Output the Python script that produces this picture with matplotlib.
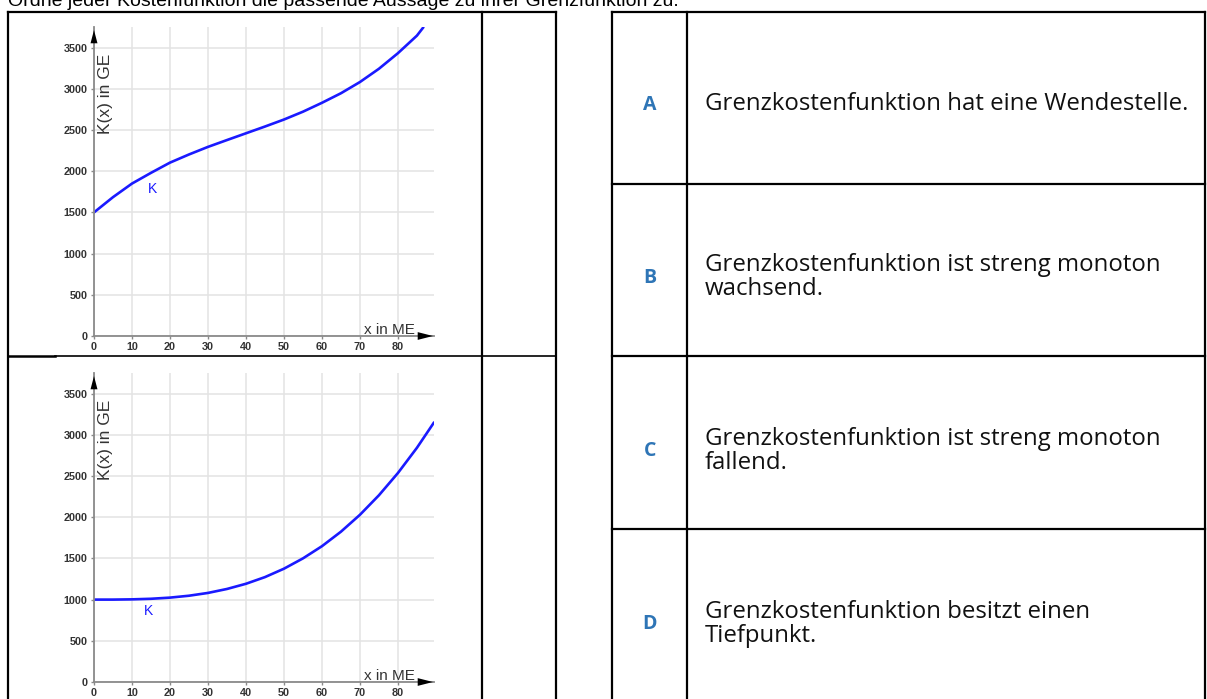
import matplotlib
matplotlib.use("Agg")
import matplotlib.pyplot as plt

# ---- Daten ----
x_ticks = [0, 10, 20, 30, 40, 50, 60, 70, 80]
y_ticks = [0, 500, 1000, 1500, 2000, 2500, 3000, 3500]

# Kostenfunktion oben (mit Wendestelle)
x_k1 = [0, 5, 10, 15, 20, 25, 30, 35, 40, 45, 50, 55, 60, 65, 70, 75, 80, 85, 86.7]
k1 = [1500, 1685, 1850, 1980, 2104, 2203, 2295, 2378, 2460, 2542, 2627, 2722,
      2830, 2946, 3082, 3243, 3432, 3645, 3746]

# Kostenfunktion unten (konvex)
x_k2 = [0, 5, 10, 15, 20, 25, 30, 35, 40, 45, 50, 55, 60, 65, 70, 75, 80, 85, 89.5]
k2 = [1000, 1000, 1003, 1010, 1024, 1047, 1081, 1129, 1192, 1273, 1375, 1500,
      1648, 1824, 2029, 2266, 2536, 2842, 3150]

letters = ["A", "B", "C", "D"]
statements = [
    "Grenzkostenfunktion hat eine Wendestelle.",
    "Grenzkostenfunktion ist streng monoton\nwachsend.",
    "Grenzkostenfunktion ist streng monoton\nfallend.",
    "Grenzkostenfunktion besitzt einen\nTiefpunkt.",
]
title = "Ordne jeder Kostenfunktion die passende Aussage zu ihrer Grenzfunktion zu."

W, H = 1207, 699
fig = plt.figure(figsize=(W / 100, H / 100), dpi=100)

# ---- Arbeitsblatt-Ebene in Pixelkoordinaten ----
page = fig.add_axes([0, 0, 1, 1], zorder=0)
page.set_xlim(0, W)
page.set_ylim(H, 0)
page.axis("off")

# Überschrift ist im Original oben abgeschnitten
page.text(8, 6, title, fontsize=14, family="Liberation Sans", va="baseline", ha="left")

lw_tab = 1.6
# linke Tabelle
page.plot([8, 8], [12, H + 5], color="black", lw=lw_tab)
page.plot([556, 556], [12, H + 5], color="black", lw=lw_tab)
page.plot([482, 482], [12, H + 5], color="black", lw=lw_tab)
page.plot([8, 556], [12, 12], color="black", lw=lw_tab)
page.plot([8, 55], [356, 356], color="black", lw=1.8)
page.plot([55, 556], [356, 356], color="black", lw=1.2)

# rechte Tabelle
page.plot([612, 612], [12, H + 5], color="black", lw=lw_tab)
page.plot([687, 687], [12, H + 5], color="black", lw=lw_tab)
page.plot([1205, 1205], [12, H + 5], color="black", lw=lw_tab)
for yy in [12, 184, 356, 529]:
    page.plot([612, 1205], [yy, yy], color="black", lw=lw_tab)

letter_y = [105, 278, 451, 624]
text_y = [104, 277, 451, 624]
for let, txt, ly, ty in zip(letters, statements, letter_y, text_y):
    page.text(650, ly, let, fontsize=14, fontweight="bold", color="#2E75B6",
              family="Open Sans", ha="center", va="center")
    page.text(705, ty, txt, fontsize=17.3, color="#111111", family="Open Sans",
              ha="left", va="center", linespacing=1.05)


def draw_chart(rect, xs, ys, k_pos):
    ax = fig.add_axes(rect, zorder=2)
    ax.set_facecolor("none")
    ax.plot(xs, ys, color="#1a1aff", lw=1.9, solid_capstyle="round")
    ax.set_xlim(0, 89.5)
    ax.set_ylim(0, 3750)
    ax.set_xticks(x_ticks)
    ax.set_yticks(y_ticks)
    ax.grid(True, color="#e3e3e3", lw=1.1)
    ax.set_axisbelow(True)
    for s in ["top", "right"]:
        ax.spines[s].set_visible(False)
    for s in ["left", "bottom"]:
        ax.spines[s].set_color("#8a8a8a")
        ax.spines[s].set_linewidth(1.3)
    ax.tick_params(length=2.5, width=1, color="#8a8a8a", labelsize=7.8,
                   labelcolor="#333333", pad=2)
    for lab in ax.get_xticklabels() + ax.get_yticklabels():
        lab.set_fontweight("bold")
        lab.set_family("Liberation Sans")

    # Achsenpfeile
    ax.annotate("", xy=(0, 0.99), xytext=(0, 0.945), xycoords="axes fraction",
                arrowprops=dict(arrowstyle="-|>,head_length=0.95,head_width=0.25",
                                mutation_scale=10, color="black", lw=0,
                                shrinkA=0, shrinkB=0), annotation_clip=False)
    ax.annotate("", xy=(0.997, 0), xytext=(0.95, 0), xycoords="axes fraction",
                arrowprops=dict(arrowstyle="-|>,head_length=1.1,head_width=0.28",
                                mutation_scale=10, color="black", lw=0,
                                shrinkA=0, shrinkB=0), annotation_clip=False)

    ax.text(2.9, 3420, "K(x) in GE", rotation=90, ha="center", va="top",
            fontsize=12.5, color="#333333", family="Liberation Sans")
    ax.text(84.4, 25, "x in ME", ha="right", va="baseline", fontsize=11,
            color="#333333", family="Liberation Sans")
    ax.text(k_pos[0], k_pos[1], "K", ha="center", va="center", fontsize=10,
            color="#1a1aff", family="Liberation Sans")
    return ax


ax_w = (434 - 94) / W
ax_h = (336 - 27) / H
draw_chart([94 / W, (H - 336) / H, ax_w, ax_h], x_k1, k1, (15.4, 1790))
draw_chart([94 / W, (H - 682) / H, ax_w, ax_h], x_k2, k2, (14.3, 860))

fig.savefig("out.png", dpi=100)
